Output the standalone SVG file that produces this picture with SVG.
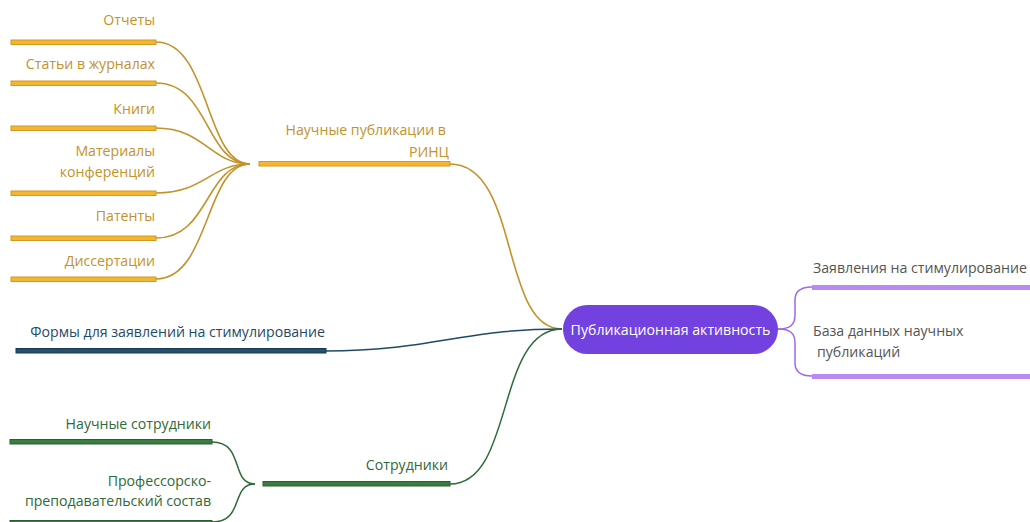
<svg xmlns="http://www.w3.org/2000/svg" width="1030" height="522" viewBox="0 0 1030 522">
<style>
text{font-family:"Open Sans","Noto Sans",sans-serif;font-size:14.15px}
.g{fill:#C4922A}.gb{fill:#F5B52E;stroke:#CF9A24;stroke-width:1}
.gl{fill:none;stroke:#C4922A;stroke-width:1.6}
.b{fill:#1F4A66}.bb{fill:#24506E;stroke:#183A50;stroke-width:1}
.gr{fill:#2F6A38}.grb{fill:#3A7D43;stroke:#2A5F31;stroke-width:1}
.grl{fill:none;stroke:#2F6A38;stroke-width:1.5}
.p{fill:#555}.pb{fill:#B88AF2}
.pl{fill:none;stroke:#9C6BEA;stroke-width:1.5}
.r{text-anchor:end}
</style>
<g id="connectors">
<path class="gl" d="M156,42 C210,42 205,164 250,164"/>
<path class="gl" d="M156,83 C210,83 205,164 250,164"/>
<path class="gl" d="M156,128 C205,128 210,164 250,164"/>
<path class="gl" d="M156,193 C205,193 210,164 250,164"/>
<path class="gl" d="M156,238 C210,238 205,164 250,164"/>
<path class="gl" d="M156,279 C210,279 205,164 250,164"/>
<path class="gl" d="M450,164 C520,164 500,329 562,329"/>
<path d="M326,351 C430,351 460,329 562,329" fill="none" stroke="#1F4A66" stroke-width="1.5"/>
<path class="grl" d="M450,484 C515,484 495,329 562,329"/>
<path class="grl" d="M212,442 C245,442 230,484 255,484"/>
<path class="grl" d="M212,522 C245,522 230,484 255,484"/>
<path class="pl" d="M778,329 C790,329 795,325 795,315 L795,300 C795,292 800,287 812,287"/>
<path class="pl" d="M778,329 C790,329 795,333 795,343 L795,363 C795,371 800,376 812,376"/>
</g>
<g id="root">
<rect x="563" y="305" width="215" height="49" rx="24.5" fill="#7341E0"/>
<text x="670.5" y="335" text-anchor="middle" fill="#fff">Публикационная активность</text>
</g>
<g id="n-rinc">
<rect class="gb" x="259" y="161.5" width="191" height="4.5"/>
<text class="g r" x="446" y="135">Научные публикации в</text>
<text class="g r" x="449" y="157">РИНЦ</text>
</g>
<g id="n-otchety"><rect class="gb" x="11" y="40" width="145" height="4.5"/><text class="g r" x="155" y="25">Отчеты</text></g>
<g id="n-stati"><rect class="gb" x="11" y="81" width="145" height="4.5"/><text class="g r" x="155" y="69">Статьи в журналах</text></g>
<g id="n-knigi"><rect class="gb" x="11" y="126" width="145" height="4.5"/><text class="g r" x="155" y="114">Книги</text></g>
<g id="n-materialy"><rect class="gb" x="11" y="191" width="145" height="4.5"/><text class="g r" x="155" y="156">Материалы</text><text class="g r" x="155" y="177">конференций</text></g>
<g id="n-patenty"><rect class="gb" x="11" y="236" width="145" height="4.5"/><text class="g r" x="155" y="221">Патенты</text></g>
<g id="n-dissertacii"><rect class="gb" x="11" y="277" width="145" height="4.5"/><text class="g r" x="155" y="266">Диссертации</text></g>
<g id="n-formy"><rect class="bb" x="16" y="348.5" width="310" height="4.5"/><text class="b r" x="325" y="337">Формы для заявлений на стимулирование</text></g>
<g id="n-sotrudniki"><rect class="grb" x="263" y="481.5" width="187" height="4.5"/><text class="gr r" x="448" y="470">Сотрудники</text></g>
<g id="n-nauchnye"><rect class="grb" x="10" y="439.5" width="202" height="4.5"/><text class="gr r" x="211" y="429">Научные сотрудники</text></g>
<g id="n-pps"><rect class="grb" x="10" y="520.5" width="202" height="4.5"/><text class="gr r" x="211" y="486">Профессорско-</text><text class="gr r" x="211" y="506">преподавательский состав</text></g>
<g id="n-zayavleniya"><rect class="pb" x="812" y="285" width="218" height="5"/><text class="p" x="813" y="273">Заявления на стимулирование</text></g>
<g id="n-baza"><rect class="pb" x="812" y="374" width="218" height="5"/><text class="p" x="813" y="336">База данных научных</text><text class="p" x="817" y="357">публикаций</text></g>
</svg>
